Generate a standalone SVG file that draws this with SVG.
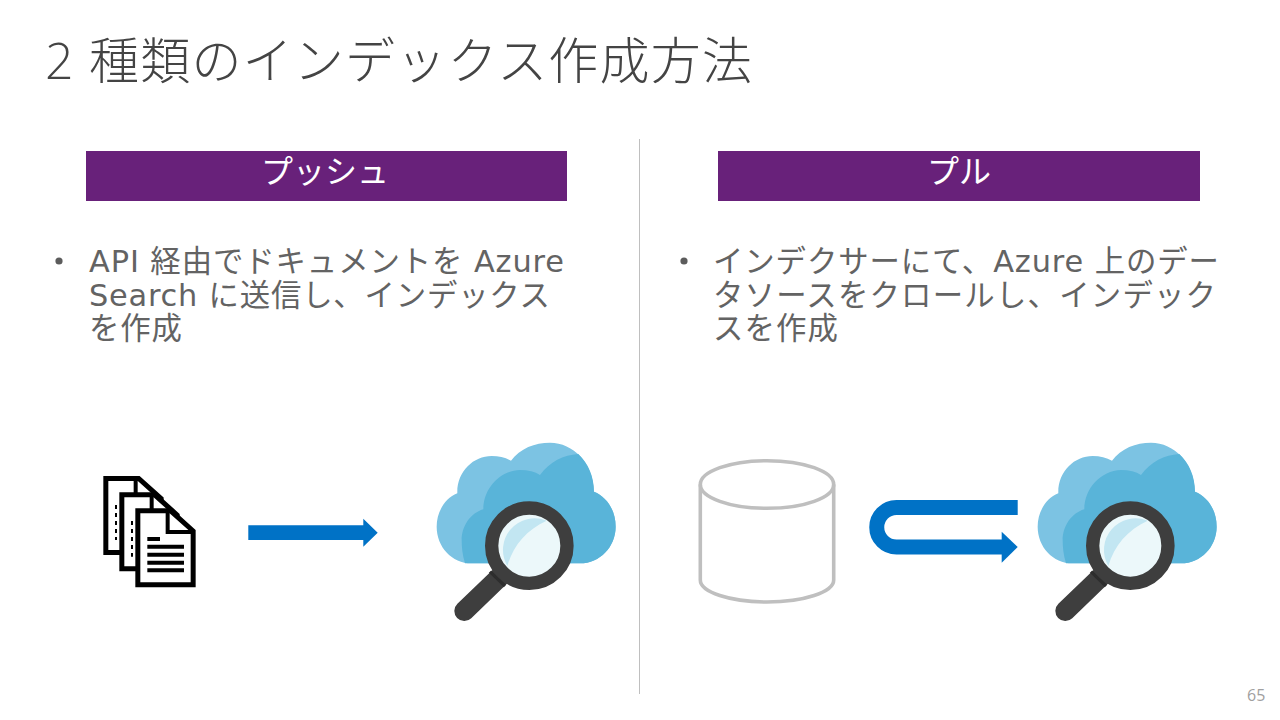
<svg xmlns="http://www.w3.org/2000/svg" xmlns:xlink="http://www.w3.org/1999/xlink" width="1280" height="720" viewBox="0 0 1280 720">
<style>
text{font-family:"DejaVu Sans","Noto Sans CJK JP",sans-serif;fill:#505050}
.title{font-size:50px;font-weight:300;font-family:"Open Sans","Noto Sans CJK JP",sans-serif;fill:#444}
.body{font-size:30.4px;font-family:"DejaVu Sans","Noto Sans CJK JP",sans-serif;fill:#636363}
.head{font-size:32px;font-family:"Noto Sans CJK JP",sans-serif;fill:#fff;text-anchor:middle}
.bar{fill:#68217a}
.cyl{fill:none;stroke:#bfbfbf;stroke-width:3.6}
</style>
<defs>
<g id="page">
<path d="M7.5 7.5H106L173.5 68V229.5H7.5Z" fill="#fff" stroke="#000" stroke-width="15"/>
<path d="M97 5V71H172" fill="none" stroke="#000" stroke-width="12"/>
</g>
<g id="cloud" transform="translate(425 430) scale(.3333)">
<path d="M258 92C285 55 330 38 375 38C445 38 505 100 507 185C545 200 572 240 572 290C572 350 525 400 465 400H140C80 400 35 350 35 290C35 245 60 205 97 190C95 125 145 78 200 78C222 78 242 83 258 92Z" fill="#7cc3e3"/>
<path d="M120 400C112 375 110 350 110 330C110 290 135 250 175 238C175 175 225 122 285 120C310 120 330 125 345 135C375 95 415 75 460 72C490 100 507 140 507 185C545 200 572 240 572 290C572 350 525 400 465 400Z" fill="#59b4d9"/>
<circle cx="313" cy="347" r="100" fill="#ecf8fa"/>
<path d="M365 272C305 300 265 345 247 408A95 95 0 0 1 365 272Z" fill="#c2e6f2"/>
<path d="M118 543L225 440" fill="none" stroke="#3e3e3e" stroke-width="60" stroke-linecap="round"/>
<path d="M195 425L240 468" fill="none" stroke="#2d2d2d" stroke-width="10"/>
<circle cx="313" cy="347" r="113" fill="none" stroke="#3e3e3e" stroke-width="40"/>
</g>
</defs>
<g id="title"><text class="title" x="45" y="79" textLength="707" lengthAdjust="spacing">2 種類のインデックス作成方法</text></g>
<g id="divider"><path d="M639.5 139V694" stroke="#bfbfbf" stroke-width="1"/></g>
<g id="push-panel">
<rect class="bar" x="86" y="151" width="481" height="50"/>
<text class="head" x="325" y="183">プッシュ</text>
<circle cx="59" cy="261" r="3.6" fill="#5c5c5c"/>
<text class="body" x="89" y="272" textLength="475" lengthAdjust="spacing">API 経由でドキュメントを Azure</text>
<text class="body" x="89" y="306" textLength="461" lengthAdjust="spacing">Search に送信し、インデックス</text>
<text class="body" x="89" y="339" textLength="93" lengthAdjust="spacing">を作成</text>
</g>
<g id="pull-panel">
<rect class="bar" x="718" y="151" width="482" height="50"/>
<text class="head" x="959" y="183">プル</text>
<circle cx="684" cy="261" r="3.6" fill="#5c5c5c"/>
<text class="body" x="713" y="272" textLength="506" lengthAdjust="spacing">インデクサーにて、Azure 上のデー</text>
<text class="body" x="713" y="306" textLength="503" lengthAdjust="spacing">タソースをクロールし、インデック</text>
<text class="body" x="713" y="339" textLength="125" lengthAdjust="spacing">スを作成</text>
</g>
<g id="documents" transform="translate(90 460) scale(.3333)">
<use xlink:href="#page" href="#page" x="40" y="48"/>
<path d="M78 135V240" stroke="#000" stroke-width="6" stroke-dasharray="12 12"/>
<use xlink:href="#page" href="#page" x="88" y="97"/>
<path d="M126 183V290" stroke="#000" stroke-width="6" stroke-dasharray="12 12"/>
<use xlink:href="#page" href="#page" x="136" y="145"/>
<path d="M172 237H210M172 260H282M172 284H282M172 308H282M172 331H282" stroke="#000" stroke-width="12" fill="none"/>
</g>
<g id="search-cloud-push"><use xlink:href="#cloud" href="#cloud"/></g>
<g id="database">
<ellipse class="cyl" cx="767" cy="484.5" rx="66.7" ry="23.8"/>
<path class="cyl" d="M700.3 484.5V580A66.7 22 0 0 0 833.7 580V484.5"/>
</g>
<g id="search-cloud-pull"><use xlink:href="#cloud" href="#cloud" x="601"/></g>
<g id="connectors" fill="#0072c6">
<path d="M248.3 525.3H363.3V518.7L377.7 532.7L363.3 546.7V540H248.3Z"/>
<path d="M1017.7 507.5H896.5A19.75 19.75 0 0 0 896.5 547H1003" fill="none" stroke="#0072c6" stroke-width="15"/>
<path d="M1001.7 531.7L1017.7 547L1001.7 562.7Z"/>
</g>
<g id="page-number"><text x="1247" y="701" font-size="16" style="fill:#a0a0a0;font-family:'Open Sans',sans-serif">65</text></g>
</svg>
